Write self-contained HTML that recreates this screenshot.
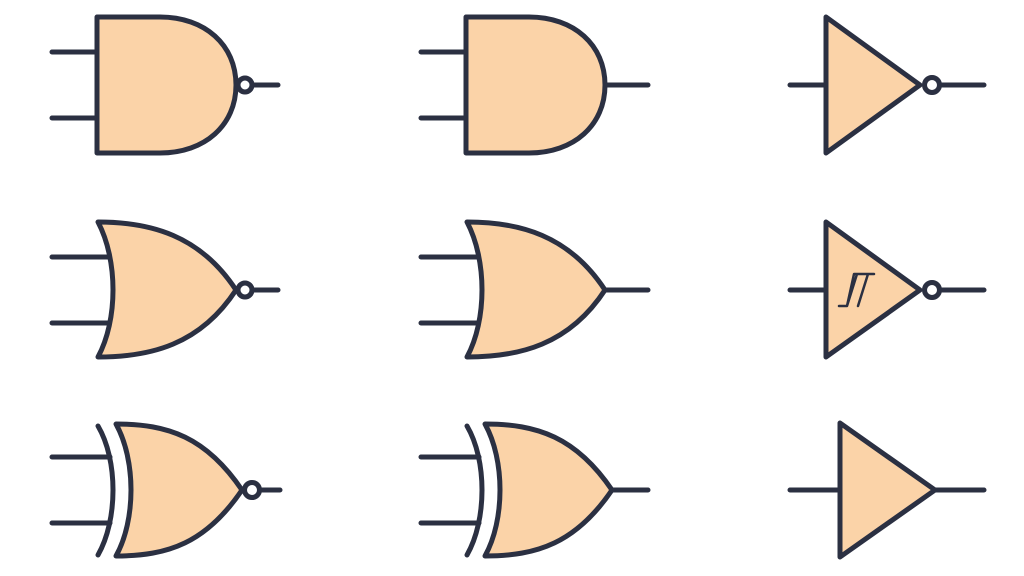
<!DOCTYPE html>
<html><head><meta charset="utf-8"><style>html,body{margin:0;padding:0;background:#fff;width:1024px;height:576px;overflow:hidden}</style></head>
<body>
<svg width="1024" height="576" viewBox="0 0 1024 576">
<g fill="#fbd3a8" stroke="#2b3042" stroke-width="5" stroke-linecap="round" stroke-linejoin="round">
<!-- NAND -->
<g>
<path d="M52 52H97M52 118H97M254 85H278" fill="none"/>
<path d="M97 17H160C205 17 236 45 236 85C236 125 205 153 160 153H97Z"/>
<circle cx="245" cy="85" r="7" fill="#fff"/>
</g>
<!-- AND -->
<g>
<path d="M421 52H466M421 118H466M605 85H648" fill="none"/>
<path d="M466 17H529C574 17 605 45 605 85C605 125 574 153 529 153H466Z"/>
</g>
<!-- NOT -->
<g>
<path d="M790 85H826M941 85H984" fill="none"/>
<path d="M826 17L920 85L826 153Z"/>
<circle cx="932" cy="85" r="7.5" fill="#fff"/>
</g>
<!-- NOR -->
<g>
<path d="M52 257H108M52 323H108M254 290H278" fill="none"/>
<path d="M98 222C150 222 200 235 236 290C200 345 150 357 98 357C118 320 118 260 98 222Z"/>
<circle cx="245" cy="290" r="7" fill="#fff"/>
</g>
<!-- OR -->
<g>
<path d="M421 257H477M421 323H477M605 290H648" fill="none"/>
<path d="M467 222C519 222 569 235 605 290C569 345 519 357 467 357C487 320 487 260 467 222Z"/>
</g>
<!-- Schmitt NOT -->
<g>
<path d="M790 290H826M941 290H984" fill="none"/>
<path d="M826 222L920 290L826 357Z"/>
<circle cx="932" cy="290" r="7.5" fill="#fff"/>
<path d="M839 306H847L854 274H874M847 306L857 274M858 306L868 274" fill="none" stroke-width="2.5"/>
</g>
<!-- XNOR -->
<g>
<path d="M52 457H110M52 523H110M261 490H280" fill="none"/>
<path d="M98 426C118 460 118 520 98 555" fill="none"/>
<path d="M116 424C168 424 206 437 242 490C206 543 168 556 116 556C136 520 136 460 116 424Z"/>
<circle cx="252" cy="490" r="7.5" fill="#fff"/>
</g>
<!-- XOR -->
<g>
<path d="M421 457H479M421 523H479M612 490H648" fill="none"/>
<path d="M467 426C487 460 487 520 467 555" fill="none"/>
<path d="M485 424C537 424 576 437 612 490C576 543 537 556 485 556C505 520 505 460 485 424Z"/>
</g>
<!-- Buffer -->
<g>
<path d="M790 490H840M935 490H984" fill="none"/>
<path d="M840 423L935 490L840 557Z"/>
</g>
</g>
</svg>
</body></html>
